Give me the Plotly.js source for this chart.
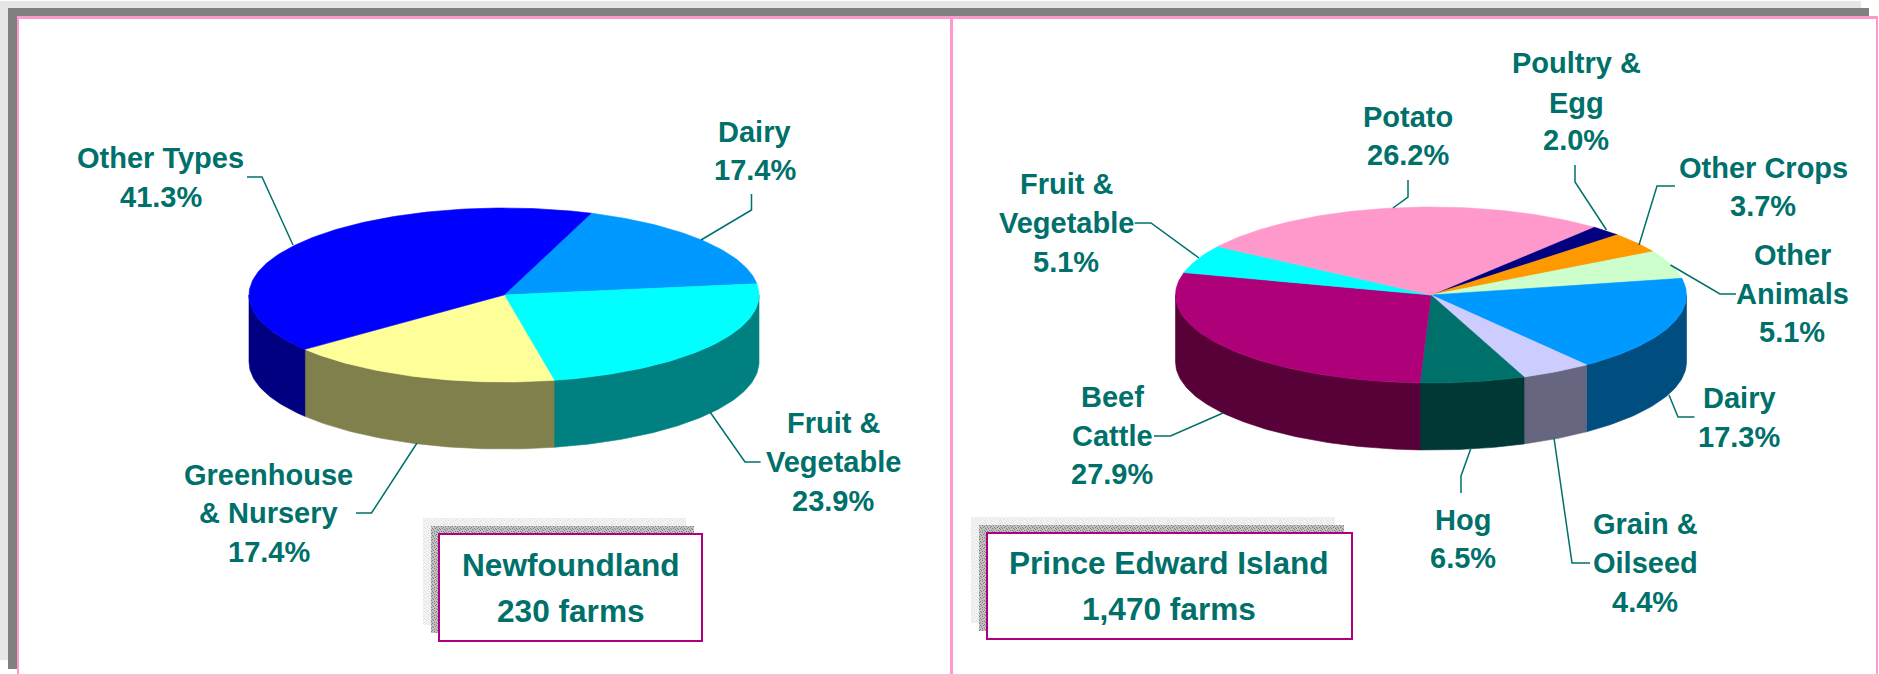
<!DOCTYPE html>
<html><head><meta charset="utf-8">
<script src="https://cdn.plot.ly/plotly-3.0.1.min.js"></script>
<style>html,body{margin:0;padding:0;background:#fff}#chart{width:1879px;height:674px}</style>
</head><body><div id="chart"></div>
<script>
// ---- data ----
var nlCategories = ['Dairy', 'Fruit & Vegetable', 'Greenhouse & Nursery', 'Other Types'];
var nlValues = [17.4, 23.9, 17.4, 41.3];
var nlTitle = ['Newfoundland', '230 farms'];
var peiCategories = ['Poultry & Egg', 'Other Crops', 'Other Animals', 'Dairy', 'Grain & Oilseed', 'Hog', 'Beef Cattle', 'Fruit & Vegetable', 'Potato'];
var peiValues = [2.0, 3.7, 5.1, 17.3, 4.4, 6.5, 27.9, 5.1, 26.2];
var peiTitle = ['Prince Edward Island', '1,470 farms'];

// ---- styles ----
var nlTop = ['#0099FF', '#00FFFF', '#FFFF99', '#0000FF'];
var nlSide = ['#004D80', '#008080', '#80804D', '#000080'];
var peiTop = ['#000080', '#FF9900', '#CCFFCC', '#0099FF', '#CCCCFF', '#00706B', '#AE0078', '#00FFFF', '#FF99CC'];
var peiSide = ['#000040', '#804D00', '#668066', '#004D80', '#666680', '#003835', '#580038', '#008080', '#804D66'];
var TEAL = '#00706B', PINK = '#FF99CC', MAG = '#B0007F';

// ---- geometry ----
var nlPie = {cx: 504, cy: 295, rx: 255, ry: 87, depth: 67, start: 20};
var peiPie = {cx: 1431, cy: 295, rx: 255.5, ry: 88, depth: 67, start: 39.5};

function pt(p, deg, dy) {
  var r = deg * Math.PI / 180;
  return [p.cx + p.rx * Math.sin(r), p.cy - p.ry * Math.cos(r) + (dy || 0)];
}
function poly(color, xs, ys, name) {
  return {type: 'scatter', mode: 'lines', x: xs, y: ys, fill: 'toself', fillcolor: color,
    line: {color: color, width: 0.6}, hoverinfo: 'text', text: name, showlegend: false};
}
function pieTraces(p, cats, vals, tops, sides) {
  var tot = vals.reduce(function (a, b) { return a + b; }, 0), walls = [], faces = [], a = p.start;
  vals.forEach(function (v, i) {
    var b = a + v / tot * 360, xs, ys, d, q;
    xs = [p.cx]; ys = [p.cy];
    for (d = a; d < b; d += 1) { q = pt(p, d); xs.push(q[0]); ys.push(q[1]); }
    q = pt(p, b); xs.push(q[0]); ys.push(q[1]); xs.push(p.cx); ys.push(p.cy);
    faces.push(poly(tops[i], xs, ys, cats[i] + ' ' + v + '%'));
    [0, 360].forEach(function (off) {
      var lo = Math.max(a - off, 90), hi = Math.min(b - off, 270), top = [], bot = [];
      if (hi <= lo) return;
      for (d = lo; d < hi; d += 1) { top.push(pt(p, d)); bot.push(pt(p, d, p.depth)); }
      top.push(pt(p, hi)); bot.push(pt(p, hi, p.depth));
      var all = top.concat(bot.reverse()); all.push(top[0]);
      walls.push(poly(sides[i], all.map(function (c) { return c[0]; }), all.map(function (c) { return c[1]; }), cats[i] + ' ' + v + '%'));
    });
    a = b;
  });
  return walls.concat(faces);
}
var traces = pieTraces(nlPie, nlCategories, nlValues, nlTop, nlSide)
  .concat(pieTraces(peiPie, peiCategories, peiValues, peiTop, peiSide));

// ---- label placement: [text, centre x, centre y] ----
var labelLines = [
  ['Other Types', 160.6, 158], ['41.3%', 160.6, 197],
  ['Dairy', 754.5, 132], ['17.4%', 754.5, 170],
  ['Fruit &', 833, 423], ['Vegetable', 833, 462], ['23.9%', 833, 501],
  ['Greenhouse', 268.5, 475], ['& Nursery', 268.5, 513], ['17.4%', 268.5, 552],
  ['Potato', 1408, 117], ['26.2%', 1408, 155],
  ['Poultry &', 1576, 63], ['Egg', 1576, 103], ['2.0%', 1576, 140],
  ['Other Crops', 1763, 168], ['3.7%', 1763, 206],
  ['Other', 1792, 255], ['Animals', 1792, 294], ['5.1%', 1792, 332],
  ['Fruit &', 1066, 184], ['Vegetable', 1066, 223], ['5.1%', 1066, 262],
  ['Beef', 1112, 397], ['Cattle', 1112, 436], ['27.9%', 1112, 474],
  ['Dairy', 1739, 398], ['17.3%', 1739, 437],
  ['Hog', 1463, 520], ['6.5%', 1463, 558],
  ['Grain &', 1645, 524], ['Oilseed', 1645, 563], ['4.4%', 1645, 602]
];
var titleLines = [
  [nlTitle[0], 570.5, 565], [nlTitle[1], 570.5, 611],
  [peiTitle[0], 1169, 563], [peiTitle[1], 1169, 609]
];
function ann(l, size) {
  return {xref: 'x', yref: 'y', x: l[1], y: l[2], text: l[0], showarrow: false, xanchor: 'center', yanchor: 'middle',
    font: {family: '"Liberation Sans", Arial, sans-serif', size: size, color: TEAL, weight: 700}};
}
var annotations = labelLines.map(function (l) { return ann(l, 29); })
  .concat(titleLines.map(function (l) { return ann(l, 31.6); }));

// ---- leader lines ----
var leaders = [
  [[247,177],[262,177],[293,245]],
  [[751.5,194],[751.5,210],[701,240]],
  [[710,412],[745,462],[760.6,462]],
  [[417,443],[371.5,513],[356,513]],
  [[1408,180],[1408,197],[1393,208]],
  [[1575,165],[1575,182],[1606.5,230]],
  [[1675,186],[1657,186],[1639,245]],
  [[1670.5,265],[1720,294],[1736,294]],
  [[1134.6,223],[1151,223],[1199,258]],
  [[1154,436],[1170.5,436],[1223,413]],
  [[1669,395],[1678,417],[1694.5,417]],
  [[1461,493],[1461,476],[1471,448]],
  [[1554,438],[1572,563],[1590,563]]
];
function rect(x0, y0, x1, y1, fill, lineColor, lw, layer) {
  return {type: 'rect', xref: 'x', yref: 'y', x0: x0, y0: y0, x1: x1, y1: y1, layer: layer || 'below',
    fillcolor: fill, line: {color: lineColor || fill, width: lw || 0}};
}
var shapes = [
  rect(0, 1, 1861, 8, '#E6E6E6'), rect(0, 1, 8, 660, '#E6E6E6'),
  rect(8, 8, 1869, 17, '#808080'), rect(8, 8, 17, 669, '#808080'),
  rect(17, 16, 1878, 19, PINK), rect(17, 16, 19, 674, PINK),
  rect(950, 16, 953, 674, PINK), rect(1876, 16, 1878, 674, PINK),
  rect(439, 534, 702, 641, '#FFFFFF', MAG, 2, 'above'),
  rect(987, 533, 1352, 639, '#FFFFFF', MAG, 2, 'above')
].concat(leaders.map(function (l) {
  return {type: 'path', xref: 'x', yref: 'y', layer: 'above', line: {color: TEAL, width: 1.5},
    path: 'M' + l.map(function (c) { return c[0] + ',' + c[1]; }).join('L')};
}));

// dithered drop shadows behind the title boxes: a small irregular tile of dots
var tileDots = [[0,0],[3,0],[5,1],[1,2],[4,2],[2,3],[6,3],[0,4],[3,5],[5,5],[1,6],[6,6]];
function stipple(w, h, a, b) {
  var dots = tileDots.map(function (d) {
    return '<rect x="' + d[0] + '" y="' + d[1] + '" width="1" height="1" fill="' + b + '"/>';
  }).join('');
  var svg = '<svg xmlns="http://www.w3.org/2000/svg" width="' + w + '" height="' + h + '">' +
    '<defs><pattern id="p" width="7" height="7" patternUnits="userSpaceOnUse">' +
    '<rect width="7" height="7" fill="' + a + '"/>' + dots +
    '</pattern></defs><rect width="' + w + '" height="' + h + '" fill="url(#p)"/></svg>';
  return 'data:image/svg+xml;base64,' + btoa(svg);
}
function img(x0, y0, x1, y1, a, b) {
  return {source: stipple(x1 - x0, y1 - y0, a, b), xref: 'x', yref: 'y', x: x0, y: y0,
    sizex: x1 - x0, sizey: y1 - y0, xanchor: 'left', yanchor: 'top', sizing: 'stretch', layer: 'below'};
}
var images = [
  img(423, 518, 686, 625, '#F4F4F4', '#E0E0E0'),
  img(431, 526, 694, 633, '#C0C0C0', '#808080'),
  img(971, 517, 1335, 623, '#F4F4F4', '#E0E0E0'),
  img(979, 525, 1344, 631, '#C0C0C0', '#808080')
];

var hidden = {visible: false, fixedrange: true};
Plotly.newPlot('chart', traces, {
  width: 1879, height: 674, margin: {l: 0, r: 0, t: 0, b: 0},
  paper_bgcolor: '#FFFFFF', plot_bgcolor: '#FFFFFF', showlegend: false,
  xaxis: Object.assign({range: [0, 1879]}, hidden),
  yaxis: Object.assign({range: [674, 0]}, hidden),
  shapes: shapes, annotations: annotations, images: images
}, {displayModeBar: false});
</script></body></html>
